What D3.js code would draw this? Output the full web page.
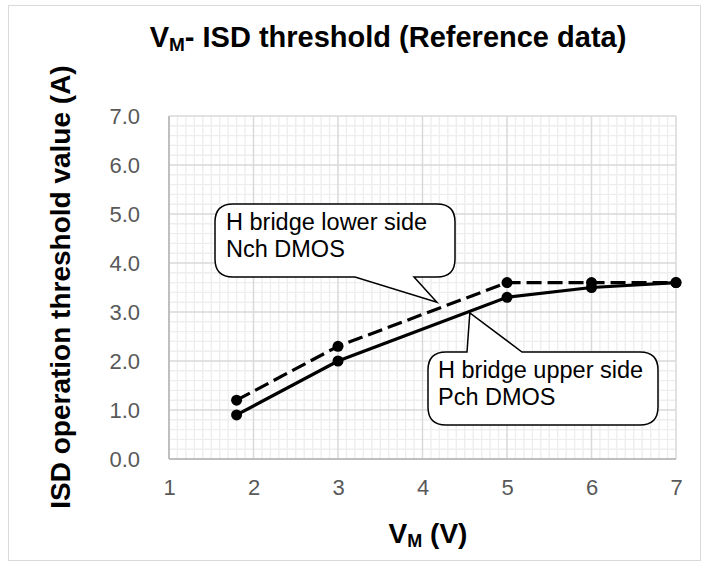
<!DOCTYPE html>
<html><head><meta charset="utf-8">
<script src="https://cdn.jsdelivr.net/npm/d3@7"></script>
<style>body{margin:0;background:#fff}svg{display:block}</style>
</head><body>
<script>
const vm = [1.8, 3, 5, 6, 7];
const nchLower = [1.2, 2.3, 3.6, 3.6, 3.6];
const pchUpper = [0.9, 2.0, 3.3, 3.5, 3.6];
const xTicks = [1, 2, 3, 4, 5, 6, 7];
const yTicks = [0, 1, 2, 3, 4, 5, 6, 7];
const callouts = [
  {lines: ["H bridge lower side", "Nch DMOS"], tip: [4.17, 3.2]},
  {lines: ["H bridge upper side", "Pch DMOS"], tip: [4.56, 2.98]}
];

const W = 708, H = 568;
const svg = d3.select("body").append("svg").attr("width", W).attr("height", H);
const font = "Liberation Sans, Arial, sans-serif";
const x = d3.scaleLinear().domain([1, 7]).range([169, 676]);
const y = d3.scaleLinear().domain([0, 7]).range([459, 116]);

svg.append("rect").attr("x", 8.5).attr("y", 5.5).attr("width", 692).attr("height", 555)
  .attr("fill", "#fff").attr("stroke", "#d9d9d9").attr("stroke-width", 1);

// minor grid
const g = svg.append("g");
const xMinor = d3.range(10, 71).map(d => d / 10).filter(d => Math.abs(d - Math.round(d)) > 1e-6);
const yMinor = d3.range(0, 36).map(d => d / 5).filter(d => Math.abs(d - Math.round(d)) > 1e-6);
g.selectAll(".xm").data(xMinor).enter().append("line")
  .attr("x1", d => x(d)).attr("x2", d => x(d)).attr("y1", y(7)).attr("y2", y(0))
  .attr("stroke", "#eeeeee").attr("stroke-width", 1.4);
g.selectAll(".ym").data(yMinor).enter().append("line")
  .attr("y1", d => y(d)).attr("y2", d => y(d)).attr("x1", x(1)).attr("x2", x(7))
  .attr("stroke", "#eeeeee").attr("stroke-width", 1.4);
// major grid
g.selectAll(".xM").data(xTicks).enter().append("line")
  .attr("x1", d => x(d)).attr("x2", d => x(d)).attr("y1", y(7)).attr("y2", y(0))
  .attr("stroke", "#d9d9d9").attr("stroke-width", 1.5);
g.selectAll(".yM").data(yTicks).enter().append("line")
  .attr("y1", d => y(d)).attr("y2", d => y(d)).attr("x1", x(1)).attr("x2", x(7))
  .attr("stroke", "#d9d9d9").attr("stroke-width", 1.5);
// axis lines
svg.append("line").attr("x1", x(1)).attr("x2", x(1)).attr("y1", y(7)).attr("y2", y(0))
  .attr("stroke", "#bfbfbf").attr("stroke-width", 2);
svg.append("line").attr("x1", x(1)).attr("x2", x(7)).attr("y1", y(0)).attr("y2", y(0))
  .attr("stroke", "#bfbfbf").attr("stroke-width", 2);

// axes labels via d3 axes
const xAxis = svg.append("g").attr("transform", `translate(0,${y(0)})`)
  .call(d3.axisBottom(x).tickValues(xTicks).tickFormat(d3.format("d")).tickSize(0).tickPadding(20));
const yAxis = svg.append("g").attr("transform", `translate(${x(1)},0)`)
  .call(d3.axisLeft(y).tickValues(yTicks).tickFormat(d3.format(".1f")).tickSize(0).tickPadding(29));
[xAxis, yAxis].forEach(a => {
  a.select(".domain").remove();
  a.selectAll("text").attr("font-family", font).attr("font-size", 22).attr("fill", "#595959");
});

// series
const line = d3.line().x(d => x(d[0])).y(d => y(d[1]));
const sN = vm.map((v, i) => [v, nchLower[i]]);
const sP = vm.map((v, i) => [v, pchUpper[i]]);
svg.append("path").attr("d", line(sN)).attr("fill", "none").attr("stroke", "#000")
  .attr("stroke-width", 3.2).attr("stroke-dasharray", "15,6");
svg.append("path").attr("d", line(sP)).attr("fill", "none").attr("stroke", "#000")
  .attr("stroke-width", 3.2);
svg.selectAll(".mn").data(sN).enter().append("circle")
  .attr("cx", d => x(d[0])).attr("cy", d => y(d[1])).attr("r", 5.5).attr("fill", "#000");
svg.selectAll(".mp").data(sP).enter().append("circle")
  .attr("cx", d => x(d[0])).attr("cy", d => y(d[1])).attr("r", 5.5).attr("fill", "#000");

// callouts
function callout(box, side, b0, b1, tip) {
  const [x0, y0, x1, y1] = box, r = 18, [tx, ty] = tip;
  const p = d3.path();
  p.moveTo(x0 + r, y0);
  if (side === "top") { p.lineTo(b0, y0); p.lineTo(tx, ty); p.lineTo(b1, y0); }
  p.lineTo(x1 - r, y0);
  p.quadraticCurveTo(x1, y0, x1, y0 + r);
  p.lineTo(x1, y1 - r);
  p.quadraticCurveTo(x1, y1, x1 - r, y1);
  if (side === "bottom") { p.lineTo(b1, y1); p.lineTo(tx, ty); p.lineTo(b0, y1); }
  p.lineTo(x0 + r, y1);
  p.quadraticCurveTo(x0, y1, x0, y1 - r);
  p.lineTo(x0, y0 + r);
  p.quadraticCurveTo(x0, y0, x0 + r, y0);
  p.closePath();
  return p.toString();
}
const c1 = callouts[0], c2 = callouts[1];
svg.append("path").attr("d", callout([215, 204, 455, 277], "bottom", 355, 414, [x(c1.tip[0]), y(c1.tip[1])]))
  .attr("fill", "#fff").attr("stroke", "#000").attr("stroke-width", 1.5);
svg.append("path").attr("d", callout([428, 352, 658, 425], "top", 467, 522, [x(c2.tip[0]), y(c2.tip[1])]))
  .attr("fill", "#fff").attr("stroke", "#000").attr("stroke-width", 1.5);
[[c1, 226, 230], [c2, 438, 378]].forEach(([c, tx, ty]) => {
  const t = svg.append("text").attr("font-family", font).attr("font-size", 23.5).attr("fill", "#000");
  c.lines.forEach((l, i) => t.append("tspan").attr("x", tx).attr("y", ty + i * 26.5).text(l));
});

// title
const title = svg.append("text").attr("x", 388).attr("y", 47).attr("text-anchor", "middle")
  .attr("font-family", font).attr("font-size", 29).attr("font-weight", "bold").attr("fill", "#000");
title.append("tspan").text("V");
title.append("tspan").attr("font-size", 19).attr("dy", 4).text("M");
title.append("tspan").attr("dy", -4).text("- ISD threshold (Reference data)");

// x axis title
const xt = svg.append("text").attr("x", 428).attr("y", 543).attr("text-anchor", "middle")
  .attr("font-family", font).attr("font-size", 28).attr("font-weight", "bold").attr("fill", "#000");
xt.append("tspan").text("V");
xt.append("tspan").attr("font-size", 18).attr("dy", 4).text("M");
xt.append("tspan").attr("dy", -4).text(" (V)");

// y axis title
svg.append("text").attr("transform", "translate(70,287) rotate(-90)").attr("text-anchor", "middle")
  .attr("font-family", font).attr("font-size", 28).attr("font-weight", "bold").attr("fill", "#000")
  .text("ISD operation threshold value (A)");
</script>
</body></html>
